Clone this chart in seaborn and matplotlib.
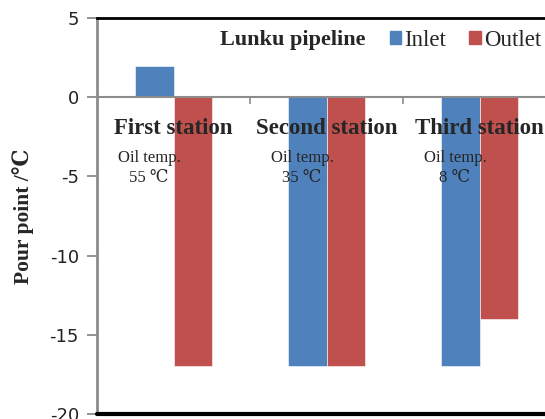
import matplotlib
matplotlib.use('Agg')
import matplotlib.pyplot as plt
import seaborn as sns
import pandas as pd

# Pour point of crude oil along the Lunku pipeline
stations = ['First station', 'Second station', 'Third station']
inlet = [2, -17, -17]
outlet = [-17, -17, -14]
oil_temps = ['55 \u2103', '35 \u2103', '8 \u2103']
series = ['Inlet', 'Outlet']
yticks = [5, 0, -5, -10, -15, -20]

COLORS = {'Inlet': '#4F81BD', 'Outlet': '#C0504D'}
SERIF = ['Liberation Serif', 'DejaVu Serif']

sns.set_theme(style='white')
plt.rcParams['font.family'] = ['DejaVu Sans']

df = pd.DataFrame({
    'Station': stations * 2,
    'Position': [series[0]] * 3 + [series[1]] * 3,
    'Pour point': inlet + outlet,
})

fig = plt.figure(figsize=(5.45, 4.19), dpi=100)
ax = fig.add_axes([97 / 545, 5 / 419, 459 / 545, 396 / 419])

sns.barplot(
    data=df, x='Station', y='Pour point', hue='Position',
    palette=COLORS, width=0.5, ax=ax, legend=False,
    edgecolor='white', linewidth=0.4, saturation=1,
)

ax.set_xlim(-0.5, 2.5)
ax.set_ylim(-20, 5)
ax.set_yticks(yticks)
ax.set_yticklabels([str(v) for v in yticks], fontsize=13, color='#222222')
ax.tick_params(axis='y', direction='out', length=7, width=1.2,
               color='#808080', pad=6, left=True)

# Category axis crosses at zero
ax.spines['bottom'].set_position(('data', 0))
ax.spines['bottom'].set_color('#8c8c8c')
ax.spines['bottom'].set_linewidth(1.5)
ax.spines['left'].set_color('#8c8c8c')
ax.spines['left'].set_linewidth(2)
ax.spines['top'].set_color('black')
ax.spines['top'].set_linewidth(2)
ax.spines['right'].set_color('black')
ax.spines['right'].set_linewidth(2)
ax.axhline(-20, color='black', lw=3, clip_on=False, zorder=5)

ax.set_xticks([0, 1, 2])
ax.set_xticklabels(stations, fontsize=16.5, fontweight='bold', family=SERIF)
ax.set_xticks([0.5, 1.5, 2.5], minor=True)
ax.tick_params(axis='x', which='major', length=0, pad=15, bottom=True)
ax.tick_params(axis='x', which='minor', direction='out', length=5,
               width=1.2, color='#8c8c8c', bottom=True)
ax.xaxis.set_zorder(6)
ax.set_xlabel('')

ax.set_ylabel('Pour point /\u2103', fontsize=15.5, fontweight='bold',
              family=SERIF, labelpad=11)

for i, t in enumerate(oil_temps):
    ax.text(i - 0.16, -4.45, f'Oil temp.\n{t}', ha='center', va='center',
            fontsize=12, family=SERIF, linespacing=1.35, zorder=6)

# Legend with inline title
fig.text(220 / 545, 1 - 40 / 419, 'Lunku pipeline', fontsize=16,
         fontweight='bold', family=SERIF, va='center', ha='left')
handles = [plt.Rectangle((0, 0), 1, 1, color=COLORS[s]) for s in series]
fig.legend(handles, series, loc='center left',
           bbox_to_anchor=(369 / 545, 1 - 40 / 419),
           ncol=2, frameon=False, handlelength=0.5, handleheight=0.5,
           handletextpad=0.15, columnspacing=1.0,
           prop={'family': SERIF, 'size': 16.5})

fig.savefig('out.png', dpi=100)
